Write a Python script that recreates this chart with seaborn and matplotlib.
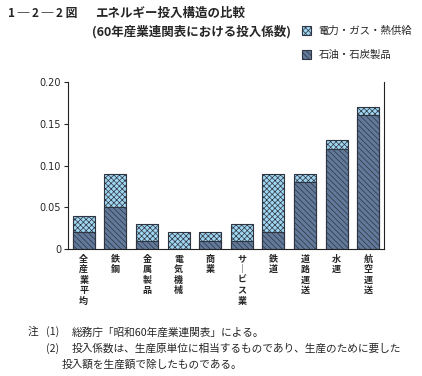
import matplotlib
matplotlib.use("Agg")
import matplotlib.pyplot as plt
import seaborn as sns
import pandas as pd
from matplotlib.patches import Patch

sns.set_theme(style="white")
plt.rcParams['font.family'] = ['Noto Sans CJK JP', 'DejaVu Sans']
plt.rcParams['hatch.linewidth'] = 0.5

categories = ["全産業平均", "鉄鋼", "金属製品", "電気機械", "商業", "サービス業",
              "鉄道", "道路運送", "水運", "航空運送"]
oil_coal = [0.02, 0.05, 0.01, 0.0, 0.01, 0.01, 0.02, 0.08, 0.12, 0.16]
electric = [0.02, 0.04, 0.02, 0.02, 0.01, 0.02, 0.07, 0.01, 0.01, 0.01]
yticks = [0, 0.05, 0.10, 0.15, 0.20]
ytick_labels = ["0", "0.05", "0.10", "0.15", "0.20"]
label_elec = "電力・ガス・熱供給"
label_oil = "石油・石炭製品"

df = pd.DataFrame({
    "cat": categories,
    "oil": oil_coal,
    "total": [a + b for a, b in zip(oil_coal, electric)],
})

fig = plt.figure(figsize=(4.22, 3.76), dpi=100)
fig.patch.set_facecolor("white")
ax = fig.add_axes([68 / 422, 1 - 249 / 376, (384 - 68) / 422, (249 - 82) / 376])

light = "#9fd6f2"
dark = "#61799a"
edge = "#2e3440"
h_light = "xxxxxx"
h_dark = "\\\\\\\\\\\\"

sns.barplot(data=df, x="cat", y="total", color=light, width=0.7, ax=ax,
            edgecolor=edge, linewidth=0.8, saturation=1)
n = len(categories)
for p in ax.patches[:n]:
    p.set_hatch(h_light)
sns.barplot(data=df, x="cat", y="oil", color=dark, width=0.7, ax=ax,
            edgecolor=edge, linewidth=0.8, saturation=1)
for p in ax.patches[n:]:
    p.set_hatch(h_dark)

ax.set_xlim(-0.5, n - 0.5)
ax.set_ylim(0, 0.2)
ax.set_yticks(yticks)
ax.set_yticklabels(ytick_labels, fontsize=7, family="DejaVu Sans")
ax.set_xlabel("")
ax.set_ylabel("")
ax.set_xticks(range(n))
vert = ["\n".join(c.replace("ー", "｜")) for c in categories]
ax.set_xticklabels(vert, fontsize=6.5, linespacing=1.22, va="top", rotation=0,
                   weight="bold")
ax.tick_params(axis="x", length=0, pad=4)
ax.tick_params(axis="y", direction="out", length=3, width=0.8, left=True, pad=2)
for s in ["left", "right", "bottom"]:
    ax.spines[s].set_visible(True)
    ax.spines[s].set_color("#222222")
    ax.spines[s].set_linewidth(0.8)
ax.spines["top"].set_visible(False)
ax.grid(False)

# title
fig.text(8 / 422, 1 - 13 / 376, "1 ─ 2 ─ 2 図", fontsize=8.5, va="center", ha="left",
         weight="bold")
fig.text(95 / 422, 1 - 13 / 376, "エネルギー投入構造の比較", fontsize=9, va="center", ha="left",
         weight="bold")
fig.text(92 / 422, 1 - 32 / 376, "(60年産業連関表における投入係数)", fontsize=9, va="center",
         ha="left", weight="bold")

# legend
handles = [Patch(facecolor=light, edgecolor=edge, hatch=h_light, linewidth=0.8),
           Patch(facecolor=dark, edgecolor=edge, hatch=h_dark, linewidth=0.8)]
fig.legend(handles, [label_elec, label_oil], loc="upper left",
           bbox_to_anchor=(302 / 422, 1 - 26 / 376), frameon=False, fontsize=7.5,
           handlelength=0.9, handleheight=0.9, handletextpad=0.7, labelspacing=1.3,
           borderaxespad=0, borderpad=0)

# notes
fs = 7.7
fig.text(28 / 422, 1 - 332 / 376, "注", fontsize=fs, va="center")
fig.text(46 / 422, 1 - 332 / 376, "(1)", fontsize=fs, va="center")
fig.text(72 / 422, 1 - 332 / 376, "総務庁「昭和60年産業連関表」による。", fontsize=fs, va="center")
fig.text(46 / 422, 1 - 349 / 376, "(2)", fontsize=fs, va="center")
fig.text(72 / 422, 1 - 349 / 376, "投入係数は、生産原単位に相当するものであり、生産のために要した",
         fontsize=fs, va="center")
fig.text(62 / 422, 1 - 365 / 376, "投入額を生産額で除したものである。", fontsize=fs, va="center")

fig.savefig("out.png", dpi=100)
